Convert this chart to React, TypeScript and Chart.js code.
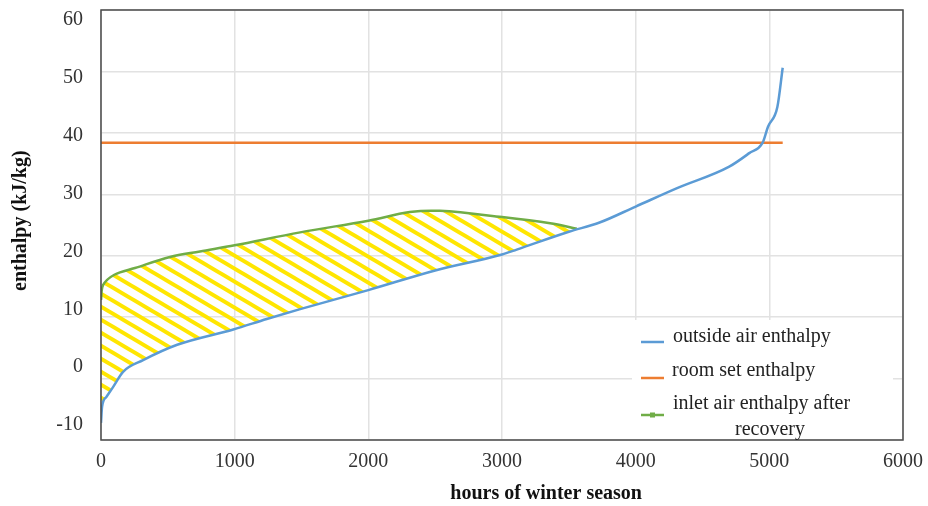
import React, { useEffect, useRef } from "react";
import { Chart, registerables } from "chart.js";

Chart.register(...registerables);

const outsideHours = [0, 8, 40, 90, 165, 315, 570, 990, 1240, 1490, 2000, 2500, 3000, 3110, 3500, 3730, 4000, 4310, 4700, 4850, 4950, 4990, 5060, 5100];
const outsideEnthalpy = [-7.2, -4.6, -3.0, -1.4, 1.1, 3.0, 5.5, 8.0, 9.7, 11.3, 14.4, 17.6, 20.2, 21.0, 23.9, 25.4, 28.0, 31.0, 34.5, 36.7, 38.4, 41.0, 44.2, 50.6];

const roomHours = [0, 5100];
const roomEnthalpy = [38.4, 38.4];

const inletHours = [0, 15, 100, 254, 516, 740, 1000, 1490, 2000, 2310, 2535, 3000, 3360, 3560];
const inletEnthalpy = [12.8, 15.2, 16.9, 18.0, 19.8, 20.7, 21.7, 23.8, 25.7, 27.1, 27.3, 26.3, 25.3, 24.4];

const xTicks = [0, 1000, 2000, 3000, 4000, 5000, 6000];
const yTicks = [-10, 0, 10, 20, 30, 40, 50, 60];

const seriesNames = ["outside air enthalpy", "room set enthalpy", "inlet air enthalpy after recovery"];
const xTitle = "hours of winter season";
const yTitle = "enthalpy (kJ/kg)";

const FONT = "'Liberation Serif', 'Times New Roman', serif";

function makeHatch(): CanvasPattern | string {
  const c = document.createElement("canvas");
  c.width = 22;
  c.height = 13;
  const g = c.getContext("2d");
  if (!g) return "rgba(255,230,0,0.6)";
  g.strokeStyle = "#FFE600";
  g.lineWidth = 4;
  for (let k = -1; k <= 1; k++) {
    g.beginPath();
    g.moveTo(-6, k * 13 - (6 * 13) / 22);
    g.lineTo(28, k * 13 + (28 * 13) / 22);
    g.stroke();
  }
  const p = g.createPattern(c, "repeat");
  return p || "rgba(255,230,0,0.6)";
}

const decorPlugin = {
  id: "decor",
  afterDraw(chart: any) {
    const { ctx, chartArea } = chart;
    const { left, right, top, bottom } = chartArea;
    ctx.save();
    ctx.strokeStyle = "#4a4a4a";
    ctx.lineWidth = 1.5;
    ctx.strokeRect(left, top, right - left, bottom - top);

    // y tick labels (slightly compressed placement, as in the source figure)
    const ys = chart.scales.y;
    ctx.fillStyle = "#333";
    ctx.font = `20px ${FONT}`;
    ctx.textAlign = "right";
    ctx.textBaseline = "middle";
    const h = bottom - top;
    for (const v of yTicks) {
      const p = ys.getPixelForValue(v);
      const yy = top + 10 + ((p - top) * (h - 25)) / h;
      ctx.fillText(String(v), left - 18, yy);
    }

    ctx.fillStyle = "#111";
    ctx.font = `bold 20px ${FONT}`;
    ctx.textAlign = "center";
    ctx.fillText(xTitle, left + (right - left) * 0.555, 494);
    ctx.save();
    ctx.translate(21, top + (bottom - top) * 0.49);
    ctx.rotate(-Math.PI / 2);
    ctx.fillText(yTitle, 0, 0);
    ctx.restore();

    const bx = right - 271;
    const by = 320;
    const bw = 261;
    const bh = bottom - by - 1;
    ctx.fillStyle = "#ffffff";
    ctx.fillRect(bx, by, bw, bh);
    const ds = chart.data.datasets;
    const rows = [342, 378, 415];
    ctx.font = `20px ${FONT}`;
    ctx.textAlign = "left";
    ctx.fillStyle = "#222";
    for (let i = 0; i < 3; i++) {
      ctx.strokeStyle = ds[i].borderColor;
      ctx.lineWidth = 2.5;
      ctx.beginPath();
      ctx.moveTo(bx + 9, rows[i]);
      ctx.lineTo(bx + 32, rows[i]);
      ctx.stroke();
      if (i === 2) {
        ctx.fillStyle = ds[i].borderColor;
        ctx.fillRect(bx + 18, rows[i] - 2.5, 5, 5);
        ctx.fillStyle = "#222";
      }
    }
    ctx.fillText(seriesNames[0], bx + 41, 337);
    ctx.fillText(seriesNames[1], bx + 40, 371);
    ctx.fillText("inlet air enthalpy after", bx + 41, 404);
    ctx.textAlign = "center";
    ctx.fillText("recovery", bx + 138, 430);
    ctx.restore();
  },
};

export default function App() {
  const ref = useRef<HTMLCanvasElement | null>(null);
  useEffect(() => {
    document.body.style.margin = "0";
    if (!ref.current) return;
    const hatch = makeHatch();
    const chart = new Chart(ref.current, {
      type: "line",
      data: {
        datasets: [
          {
            label: seriesNames[0],
            data: outsideHours.map((x, i) => ({ x, y: outsideEnthalpy[i] })),
            borderColor: "#5B9BD5",
            borderWidth: 2.5,
            pointRadius: 0,
            cubicInterpolationMode: "monotone",
            fill: false,
          },
          {
            label: seriesNames[1],
            data: roomHours.map((x, i) => ({ x, y: roomEnthalpy[i] })),
            borderColor: "#ED7D31",
            borderWidth: 2.5,
            pointRadius: 0,
            fill: false,
          },
          {
            label: seriesNames[2],
            data: inletHours.map((x, i) => ({ x, y: inletEnthalpy[i] })),
            borderColor: "#70AD47",
            borderWidth: 2.5,
            pointRadius: 0,
            tension: 0.35,
            backgroundColor: hatch as any,
            fill: 0,
          },
        ],
      },
      options: {
        animation: false,
        responsive: false,
        maintainAspectRatio: false,
        layout: { padding: { top: 10, right: 25, left: 0, bottom: 0 } },
        plugins: {
          legend: { display: false },
          tooltip: { enabled: false },
        },
        scales: {
          x: {
            type: "linear",
            min: 0,
            max: 6000,
            afterBuildTicks: (s: any) => {
              s.ticks = xTicks.map((v) => ({ value: v }));
            },
            ticks: {
              padding: 10,
              color: "#333",
              font: { family: FONT, size: 20 },
              maxRotation: 0,
              callback: (v: any) => String(v),
            },
            grid: { color: "#e2e2e2", lineWidth: 1.5, drawTicks: false },
            border: { display: false },
            afterFit: (s: any) => {
              s.height = 66;
              s.paddingLeft = 0;
              s.paddingRight = 0;
            },
          },
          y: {
            type: "linear",
            min: -10,
            max: 60,
            afterBuildTicks: (s: any) => {
              s.ticks = yTicks.map((v) => ({ value: v }));
            },
            ticks: {
              display: false,
            },
            grid: { color: "#e2e2e2", lineWidth: 1.5, drawTicks: false },
            border: { display: false },
            afterFit: (s: any) => {
              s.width = 101;
              s.paddingTop = 0;
              s.paddingBottom = 0;
            },
          },
        },
      } as any,
      plugins: [decorPlugin],
    });
    return () => chart.destroy();
  }, []);
  return (
    <div style={{ width: 928, height: 506 }}>
      <canvas ref={ref} width={928} height={506} style={{ display: "block" }} />
    </div>
  );
}
